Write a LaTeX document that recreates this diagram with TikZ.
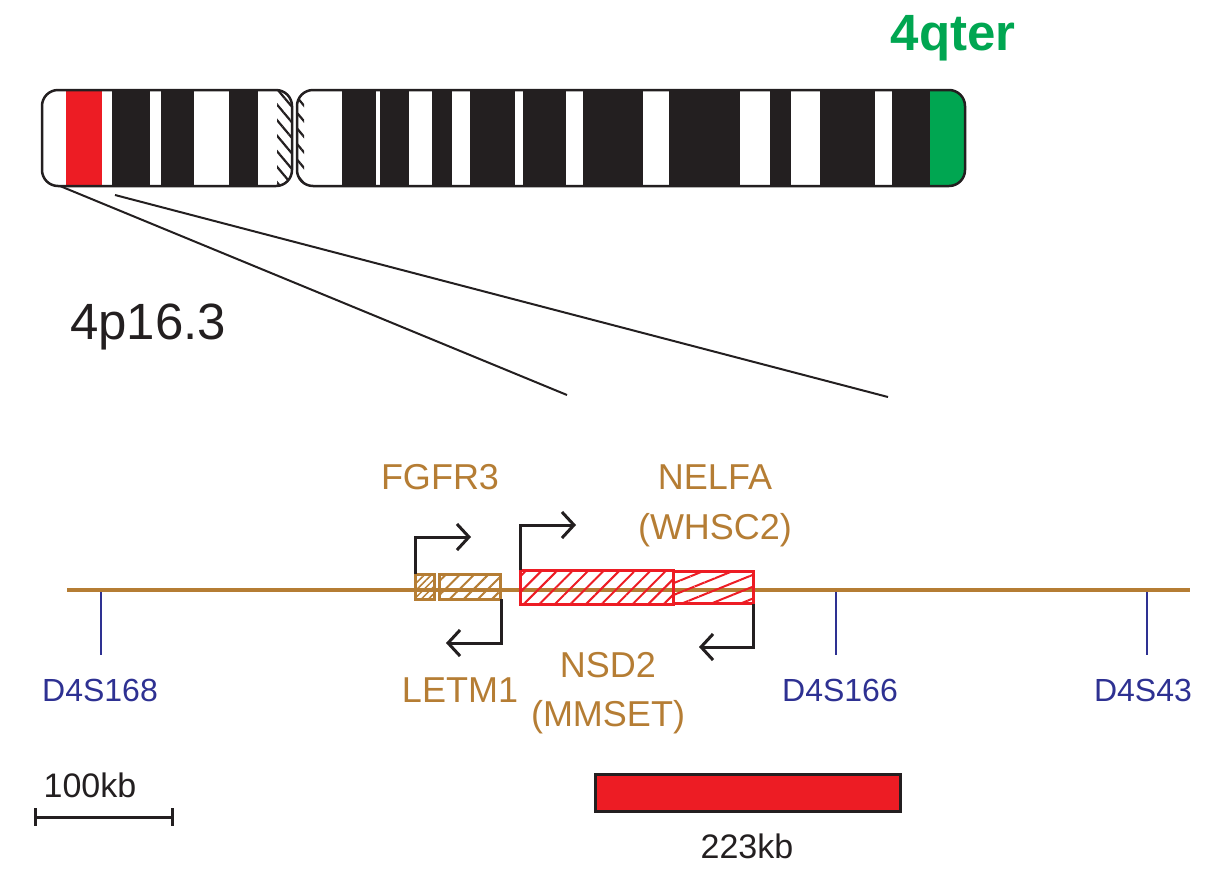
\documentclass[tikz,border=0pt]{standalone}
\usepackage{fontspec}
\setmainfont{Liberation Sans}
\usetikzlibrary{patterns.meta,arrows.meta}
\definecolor{gbrown}{RGB}{181,125,52}
\definecolor{gred}{RGB}{237,28,36}
\definecolor{ggreen}{RGB}{0,166,81}
\definecolor{gblue}{RGB}{46,49,146}
\definecolor{gblack}{RGB}{35,31,32}
\tikzset{
 glabel/.style={text=gbrown,font=\fontsize{36}{40}\selectfont,inner sep=0},
 mlabel/.style={text=gblue,font=\fontsize{32}{36}\selectfont,inner sep=0},
 marker/.style={gblue,line width=2.5pt},
 tss/.style={gblack,line width=3pt,-{Straight Barb[length=12pt,width=26pt,line width=3pt]}},
 hatch/.style={pattern={Lines[angle=-50,distance=10pt,line width=2.2pt]},pattern color=gblack},
}
\begin{document}
\begin{tikzpicture}[x=1pt,y=-1pt]
\useasboundingbox (0,0) rectangle (1229,879);
% chromosome left arm
\begin{scope}
\clip[rounded corners=16pt] (42,90) rectangle (292,186);
\fill[gred] (66,90) rectangle (102,186);
\foreach \a/\b in {112/150,161/194,229/258}{\fill[gblack] (\a,90) rectangle (\b,186);}
\fill[hatch] (277,90) rectangle (292,186);
\end{scope}
\draw[gblack,line width=2.5pt,rounded corners=16pt] (42,90) rectangle (292,186);
% right arm
\begin{scope}
\clip[rounded corners=16pt] (297,90) rectangle (965,186);
\fill[hatch] (297,90) rectangle (304,186);
\foreach \a/\b in {342/376,380/409,432/452,470/515,523/566,583/643,669/740,770/791,820/875,892/930}{\fill[gblack] (\a,90) rectangle (\b,186);}
\fill[ggreen] (930,90) rectangle (965,186);
\end{scope}
\draw[gblack,line width=2.5pt,rounded corners=16pt] (297,90) rectangle (965,186);
\node[text=ggreen,font=\fontsize{51}{55}\selectfont\bfseries,inner sep=0] (qter) at (953,38) {4qter};
% zoom lines
\coordinate (z1) at (60,186); \coordinate (z2) at (567,395);
\coordinate (z3) at (115,195); \coordinate (z4) at (888,397);
\draw[gblack,line width=2pt] (z1) -- (z2);
\draw[gblack,line width=2pt] (z3) -- (z4);
\node[text=gblack,font=\fontsize{51}{55}\selectfont,inner sep=0] (band) at (148,327) {4p16.3};
% gene line
\coordinate (l1) at (67,590); \coordinate (l2) at (1190,590);
\draw[gbrown,line width=4pt] (l1) -- (l2);
% markers
\foreach \n/\x in {m1/101,m2/836,m3/1147}{
 \coordinate (\n t) at (\x,592); \coordinate (\n b) at (\x,655);
 \draw[marker] (\n t) -- (\n b);
}
\node[mlabel] (k1) at (100,690) {D4S168};
\node[mlabel] (k2) at (840,690) {D4S166};
\node[mlabel] (k3) at (1143,690) {D4S43};
% FGFR3 / LETM1 boxes
\draw[gbrown,line width=3pt,pattern={Lines[angle=45,distance=5pt,line width=1.5pt]},pattern color=gbrown] (415,574) rectangle (434,599);
\draw[gbrown,line width=3pt,pattern={Lines[angle=45,distance=10pt,line width=2pt]},pattern color=gbrown] (439,574) rectangle (500,599);
% NELFA / NSD2 boxes
\draw[gred,line width=3pt,pattern={Lines[angle=45,distance=11pt,line width=2pt]},pattern color=gred] (520,570) rectangle (673,604);
\draw[gred,line width=3pt,pattern={Lines[angle=22,distance=11pt,line width=2pt]},pattern color=gred] (673,571) rectangle (753,603);
% TSS arrows
\coordinate (a1) at (415,574); \coordinate (a2) at (471,537);
\draw[tss] (a1) |- (a2);
\coordinate (b1) at (501,599); \coordinate (b2) at (446,643);
\draw[tss] (b1) |- (b2);
\coordinate (c1) at (520,570); \coordinate (c2) at (576,525);
\draw[tss] (c1) |- (c2);
\coordinate (d1) at (753,604); \coordinate (d2) at (699,647);
\draw[tss] (d1) |- (d2);
% gene labels
\node[glabel] (fgfr3) at (440,477) {FGFR3};
\node[glabel] (nelfa) at (715,477) {NELFA};
\node[glabel] (whsc2) at (715,530) {(WHSC2)};
\node[glabel] (letm1) at (460,690) {LETM1};
\node[glabel] (nsd2) at (608,665) {NSD2};
\node[glabel] (mmset) at (608,717) {(MMSET)};
% scale bar
\coordinate (s1) at (35,817); \coordinate (s2) at (172,817);
\draw[gblack,line width=3pt] (s1) -- (s2);
\draw[gblack,line width=3pt] (35,808) -- (35,826) (172,808) -- (172,826);
\node[text=gblack,font=\fontsize{34}{38}\selectfont,inner sep=0] (sb) at (90,785) {100kb};
\draw[gblack,line width=3pt,fill=gred] (595,774) rectangle (900,811);
\node[text=gblack,font=\fontsize{34}{38}\selectfont,inner sep=0] (del) at (747,846) {223kb};
\end{tikzpicture}
\end{document}
